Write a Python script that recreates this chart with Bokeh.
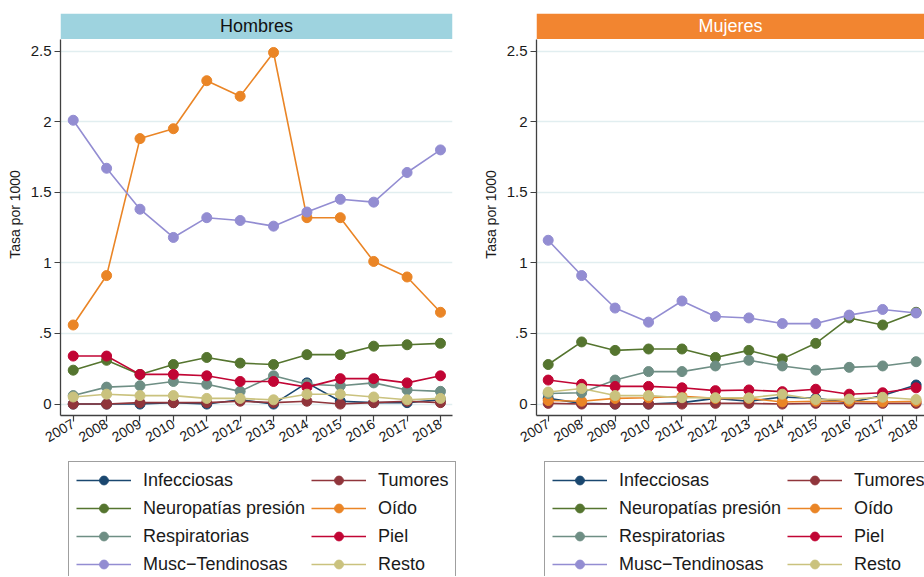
import math
from bokeh.plotting import figure
from bokeh.models import Range1d, FixedTicker, Legend, LegendItem
from bokeh.layouts import row, column
from bokeh.embed import file_html
from bokeh.resources import INLINE
from bokeh.core.properties import value

# ---------------- data ----------------
years = [2007, 2008, 2009, 2010, 2011, 2012, 2013, 2014, 2015, 2016, 2017, 2018]
year_labels = ["2007", "2008", "2009", "2010", "2011", "2012",
               "2013", "2014", "2015", "2016", "2017", "2018"]
y_ticks = [0.0, 0.5, 1.0, 1.5, 2.0, 2.5]
y_tick_labels = ["0", ".5", "1", "1.5", "2", "2.5"]

categories = ["Infecciosas", "Tumores", "Neuropatías presión", "Oído",
              "Respiratorias", "Piel", "Musc\u2212Tendinosas", "Resto"]
colors = ["#1a476f", "#90353b", "#55752f", "#ea8526",
          "#6e8e84", "#c10534", "#938dd2", "#cac27e"]

panel_titles = ["Hombres", "Mujeres"]

# Hombres
infecciosas_h = [0.00, 0.00, 0.00, 0.01, 0.00, 0.03, 0.00, 0.15, 0.02, 0.01, 0.01, 0.03]
tumores_h     = [0.00, 0.00, 0.01, 0.01, 0.01, 0.02, 0.01, 0.02, 0.00, 0.01, 0.02, 0.01]
neuro_h       = [0.24, 0.31, 0.21, 0.28, 0.33, 0.29, 0.28, 0.35, 0.35, 0.41, 0.42, 0.43]
oido_h        = [0.56, 0.91, 1.88, 1.95, 2.29, 2.18, 2.49, 1.32, 1.32, 1.01, 0.90, 0.65]
resp_h        = [0.06, 0.12, 0.13, 0.16, 0.14, 0.09, 0.20, 0.14, 0.13, 0.15, 0.10, 0.09]
piel_h        = [0.34, 0.34, 0.21, 0.21, 0.20, 0.16, 0.16, 0.12, 0.18, 0.18, 0.15, 0.20]
musc_h        = [2.01, 1.67, 1.38, 1.18, 1.32, 1.30, 1.26, 1.36, 1.45, 1.43, 1.64, 1.80]
resto_h       = [0.05, 0.07, 0.06, 0.06, 0.04, 0.04, 0.03, 0.07, 0.07, 0.05, 0.03, 0.04]

# Mujeres
infecciosas_m = [0.04, 0.005, 0.00, 0.00, 0.01, 0.04, 0.02, 0.05, 0.04, 0.01, 0.06, 0.135]
tumores_m     = [0.005, 0.00, 0.00, 0.00, 0.00, 0.005, 0.005, 0.00, 0.005, 0.005, 0.005, 0.005]
neuro_m       = [0.28, 0.44, 0.38, 0.39, 0.39, 0.33, 0.38, 0.32, 0.43, 0.61, 0.56, 0.65]
oido_m        = [0.025, 0.02, 0.04, 0.045, 0.055, 0.04, 0.04, 0.015, 0.02, 0.02, 0.015, 0.02]
resp_m        = [0.075, 0.08, 0.17, 0.23, 0.23, 0.27, 0.31, 0.27, 0.24, 0.26, 0.27, 0.30]
piel_m        = [0.17, 0.14, 0.125, 0.125, 0.115, 0.095, 0.10, 0.088, 0.105, 0.07, 0.08, 0.115]
musc_m        = [1.16, 0.91, 0.68, 0.58, 0.73, 0.62, 0.61, 0.57, 0.57, 0.63, 0.67, 0.645]
resto_m       = [0.085, 0.11, 0.06, 0.06, 0.045, 0.045, 0.044, 0.07, 0.032, 0.035, 0.048, 0.032]

series_h = [infecciosas_h, tumores_h, neuro_h, oido_h, resp_h, piel_h, musc_h, resto_h]
series_m = [infecciosas_m, tumores_m, neuro_m, oido_m, resp_m, piel_m, musc_m, resto_m]

# ---------------- styling ----------------
FONT = "Liberation Sans"
Y_LO, Y_HI = -0.081, 2.766
BAND_LO = 2.585
AXIS_COLOR = "#404040"
TEXT_COLOR = "#1a1a1a"
TOP_H = 460
LEG_H = 116
LINE_W = 1.6
MARKER = 10


def make_panel(title, band_color, title_color, series, x_lo, x_hi,
               width, mb_left, mb_right):
    p = figure(width=width, height=TOP_H,
               x_range=Range1d(x_lo, x_hi), y_range=Range1d(Y_LO, Y_HI),
               output_backend="svg", toolbar_location=None,
               min_border_left=mb_left, min_border_right=mb_right,
               min_border_top=13, min_border_bottom=TOP_H - 13 - 402)
    p.outline_line_color = None
    p.background_fill_color = "white"
    p.border_fill_color = "white"

    # header band
    p.quad(left=[x_lo], right=[x_hi], bottom=[BAND_LO], top=[Y_HI],
           fill_color=band_color, line_color=None)
    p.text(x=[(x_lo + x_hi) / 2], y=[(BAND_LO + Y_HI) / 2], text=[title],
           text_align="center", text_baseline="middle",
           text_font=value(FONT), text_font_size="18px", text_color=title_color)

    # grid
    p.xgrid.visible = False
    p.ygrid.ticker = FixedTicker(ticks=y_ticks)
    p.ygrid.grid_line_color = "#e1eef0"
    p.ygrid.grid_line_width = 1.5

    # y axis
    p.yaxis.ticker = FixedTicker(ticks=y_ticks)
    p.yaxis.major_label_overrides = dict(zip(y_ticks, y_tick_labels))
    p.yaxis.bounds = (Y_LO, BAND_LO)
    p.yaxis.axis_label = "Tasa por 1000"
    p.yaxis.axis_label_text_font = FONT
    p.yaxis.axis_label_text_font_size = "14px"
    p.yaxis.axis_label_text_font_style = "normal"
    p.yaxis.axis_label_text_color = TEXT_COLOR
    p.yaxis.axis_label_standoff = 5
    p.yaxis.major_label_text_font = FONT
    p.yaxis.major_label_text_font_size = "15px"
    p.yaxis.major_label_text_color = TEXT_COLOR
    p.yaxis.major_label_standoff = 3

    # x axis
    p.xaxis.ticker = FixedTicker(ticks=years)
    p.xaxis.major_label_overrides = dict(zip(years, year_labels))
    p.xaxis.major_label_orientation = math.radians(30)
    p.xaxis.major_label_text_font = FONT
    p.xaxis.major_label_text_font_size = "14px"
    p.xaxis.major_label_text_color = TEXT_COLOR
    p.xaxis.major_label_standoff = 1

    for ax in (p.xaxis, p.yaxis):
        ax.axis_line_color = AXIS_COLOR
        ax.axis_line_width = 1.3
        ax.major_tick_line_color = AXIS_COLOR
        ax.major_tick_line_width = 1.2
        ax.major_tick_out = 6
        ax.major_tick_in = 0
        ax.minor_tick_line_color = None

    for col, vals in zip(colors, series):
        p.line(years, vals, line_color=col, line_width=LINE_W)
        p.scatter(years, vals, marker="circle", size=MARKER,
                  fill_color=col, line_color=col)
    return p


def make_legend_fig(width, left, series):
    # the legend sits in its own strip; the series renderers here lie outside
    # its (0..1) view and only provide the legend swatches
    lf = figure(width=width, height=LEG_H, x_range=Range1d(0, 1), y_range=Range1d(0, 1),
                output_backend="svg", toolbar_location=None,
                x_axis_location=None, y_axis_location=None, min_border=0)
    lf.outline_line_color = None
    lf.xgrid.visible = False
    lf.ygrid.visible = False
    items = []
    for name, col, vals in zip(categories, colors, series):
        rl = lf.line(years, vals, line_color=col, line_width=LINE_W)
        rs = lf.scatter(years, vals, marker="circle", size=MARKER,
                        fill_color=col, line_color=col)
        items.append(LegendItem(label=name, renderers=[rl, rs]))
    legend = Legend(items=items, location=(left, -7),
                    orientation="horizontal", ncols=2,
                    label_text_font=FONT, label_text_font_size="18px",
                    label_text_color=TEXT_COLOR,
                    label_height=22, glyph_height=22, glyph_width=55,
                    label_standoff=12, spacing=6, padding=7, margin=0,
                    border_line_color=AXIS_COLOR, border_line_width=1,
                    background_fill_color="white", background_fill_alpha=1)
    lf.add_layout(legend, "center")
    return lf


p1 = make_panel(panel_titles[0], "#9ed3df", "#111111", series_h,
                2006.619, 2018.36, 468, 60, 16)
p2 = make_panel(panel_titles[1], "#f28530", "#ffffff", series_m,
                2006.650, 2018.251, 456, 68, 0)
l1 = make_legend_fig(468, 68, series_h)
l2 = make_legend_fig(456, 76, series_m)

layout = column(row(p1, p2), row(l1, l2))
open("out.html", "w").write(file_html(layout, INLINE))
